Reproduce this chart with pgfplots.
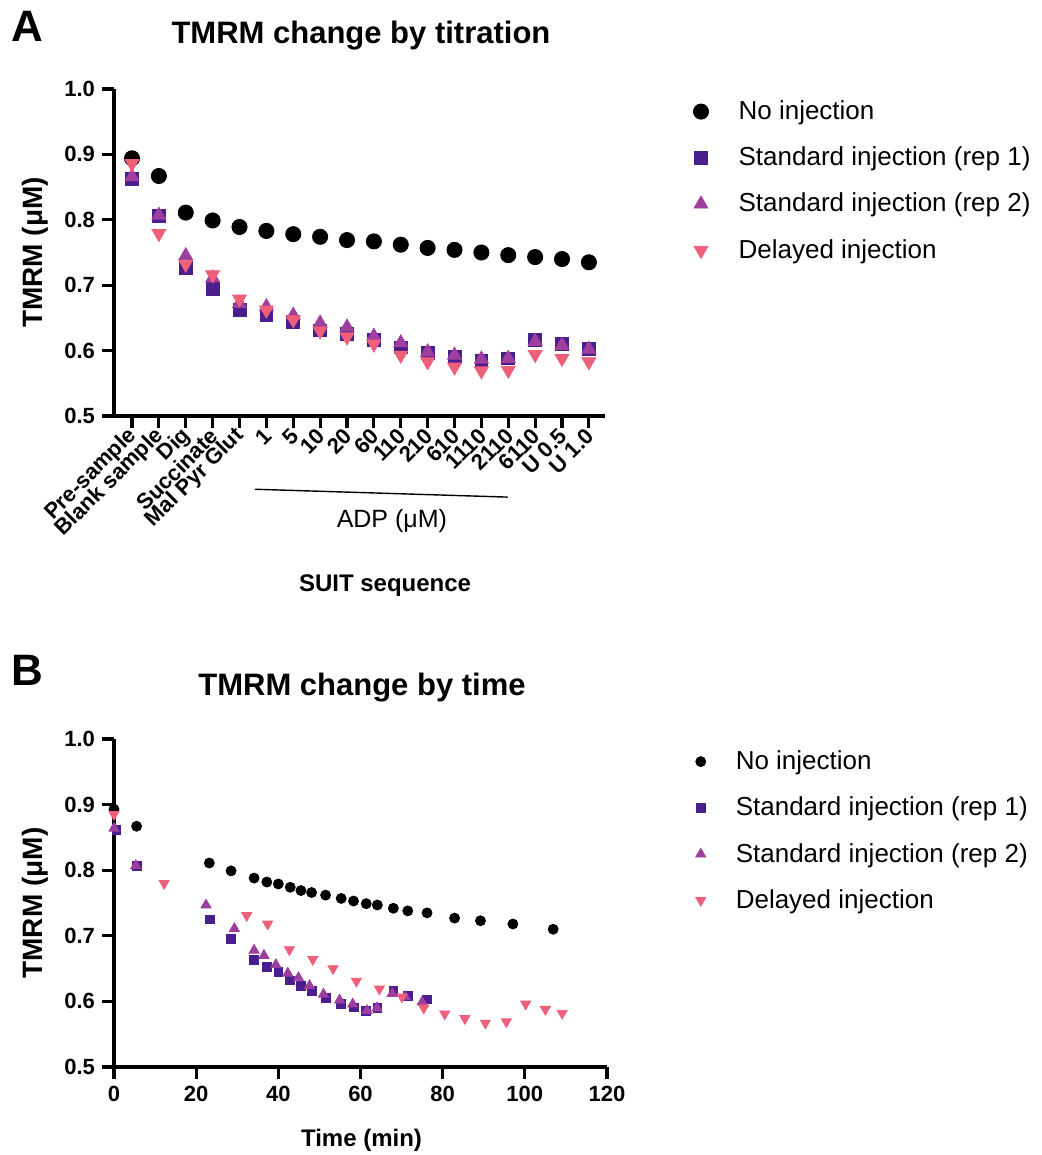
\documentclass[border=0pt]{standalone}
\usepackage{fontspec}
\setmainfont{Liberation Sans}
\usepackage{pgfplots}
\pgfplotsset{compat=1.18}

\definecolor{repone}{HTML}{4B1E8F}
\definecolor{reptwo}{HTML}{9E3FA0}
\definecolor{delayed}{HTML}{EE5F7A}

\pgfplotsset{
  prism/.style={
    scale only axis,
    axis lines=left,
    axis line style={-, line width=1.6pt},
    tick style={line width=1.6pt, black},
    tick align=outside,
    major tick length=6pt,
    ymin=0.5, ymax=1.0,
    ytick={0.5,0.6,0.7,0.8,0.9,1.0},
    yticklabel style={/pgf/number format/.cd, fixed, fixed zerofill, precision=1},
    /pgf/number format/assume math mode=true,
    ticklabel style={font=\bfseries\fontsize{11}{13}\selectfont},
    ylabel={TMRM (μM)},
    ylabel style={font=\bfseries\fontsize{14}{16}\selectfont, at={(axis description cs:-0.16,0.5)}, anchor=center},
    title style={font=\bfseries\fontsize{15.5}{18}\selectfont, anchor=center, at={(axis description cs:0.503,1)}},
    clip=false,
    legend cell align=left,
    legend style={draw=none, fill=none, anchor=north west, row sep=8.2pt,
      font=\fontsize{13}{15}\selectfont,
      /tikz/every odd column/.append style={column sep=13pt}},
  },
}

\begin{document}
\begin{tikzpicture}
\useasboundingbox (0,0) rectangle (520.5pt,-577.5pt);

\node[font=\bfseries\fontsize{22}{24}\selectfont] at (13.5pt,-13pt) {A};
\node[font=\bfseries\fontsize{22}{24}\selectfont] at (13.5pt,-335pt) {B};

% panel A: titration
\begin{axis}[prism,
  at={(57pt,-208pt)}, anchor=south west,
  width=245.5pt, height=163.5pt,
  xmin=-0.67, xmax=17.6,
  xtick={0,...,17},
  xticklabels={Pre-sample, Blank sample, Dig, Succinate, Mal Pyr Glut, 1, 5, 10, 20, 60, 110, 210, 610, 1110, 2110, 6110, U 0.5, U 1.0},
  xticklabel style={rotate=45, anchor=east, inner sep=1pt, yshift=-2pt},
  title={TMRM change by titration},
  title style={yshift=20.5pt},
  xlabel={SUIT sequence},
  xlabel style={font=\bfseries\fontsize{12}{14}\selectfont, at={(axis description cs:0.552,0)}, anchor=center, yshift=-85pt},
  legend style={at={(axis description cs:1.167,0.99)}},
]
\addplot[only marks, mark=*, mark size=3.8pt, black] coordinates {
 (0,0.894) (1,0.867) (2,0.811) (3,0.799) (4,0.789) (5,0.783) (6,0.778) (7,0.774) (8,0.769)
 (9,0.767) (10,0.762) (11,0.757) (12,0.754) (13,0.750) (14,0.746) (15,0.743) (16,0.740) (17,0.735)};
\addlegendentry{No injection}
\addplot[only marks, mark=square*, mark size=3.2pt, repone] coordinates {
 (0,0.862) (1,0.806) (2,0.726) (3,0.694) (4,0.662) (5,0.654) (6,0.644) (7,0.631) (8,0.625)
 (9,0.616) (10,0.605) (11,0.596) (12,0.591) (13,0.585) (14,0.588) (15,0.616) (16,0.610) (17,0.602)};
\addlegendentry{Standard injection (rep 1)}
\addplot[only marks, mark=triangle*, mark size=4pt, reptwo] coordinates {
 (0,0.866) (1,0.807) (2,0.745) (3,0.711) (4,0.672) (5,0.667) (6,0.654) (7,0.642) (8,0.636)
 (9,0.622) (10,0.612) (11,0.598) (12,0.593) (13,0.587) (14,0.588) (15,0.614) (16,0.608) (17,0.602)};
\addlegendentry{Standard injection (rep 2)}
\addplot[only marks, mark=triangle*, mark size=4pt, mark options={rotate=180}, delayed] coordinates {
 (0,0.886) (1,0.779) (2,0.732) (3,0.716) (4,0.679) (5,0.662) (6,0.647) (7,0.630) (8,0.621)
 (9,0.610) (10,0.593) (11,0.583) (12,0.575) (13,0.569) (14,0.570) (15,0.594) (16,0.588) (17,0.583)};
\addlegendentry{Delayed injection}
\draw[line width=0.7pt] (axis cs:4.57,0.388) -- (axis cs:13.98,0.376);
\node[font=\fontsize{12.5}{14}\selectfont] at (axis cs:9.67,0.339) {ADP (μM)};
\end{axis}

% panel B: time
\begin{axis}[prism,
  at={(57pt,-533.5pt)}, anchor=south west,
  width=246.5pt, height=164pt,
  xmin=0, xmax=120,
  xtick={0,20,40,60,80,100,120},
  title={TMRM change by time},
  title style={yshift=19.5pt},
  xlabel={Time (min)},
  xlabel style={font=\bfseries\fontsize{12}{14}\selectfont, at={(axis description cs:0.502,0)}, anchor=center, yshift=-36.5pt},
  legend style={at={(axis description cs:1.167,0.99)}},
]
\addplot[only marks, mark=*, mark size=2.5pt, black] coordinates {
 (0,0.893) (5.5,0.867) (23.2,0.811) (28.5,0.799) (34.1,0.788) (37.2,0.782) (40.0,0.779) (42.9,0.774)
 (45.5,0.769) (48.1,0.766) (51.5,0.762) (55.3,0.757) (58.3,0.753) (61.4,0.749) (64.1,0.747)
 (68.0,0.742) (71.5,0.738) (76.2,0.735) (82.9,0.727) (89.2,0.723) (97.1,0.718) (106.9,0.710)};
\addlegendentry{No injection}
\addplot[only marks, mark=square*, mark size=2.2pt, repone] coordinates {
 (0.6,0.862) (5.5,0.807) (23.3,0.725) (28.5,0.695) (34.1,0.663) (37.2,0.653) (40.0,0.645) (42.9,0.632)
 (45.5,0.624) (48.1,0.616) (51.5,0.605) (55.2,0.596) (58.3,0.591) (61.4,0.585) (64.1,0.590)
 (68.0,0.616) (71.5,0.609) (76.2,0.603)};
\addlegendentry{Standard injection (rep 1)}
\addplot[only marks, mark=triangle*, mark size=2.9pt, reptwo] coordinates {
 (0,0.864) (5.3,0.807) (22.4,0.747) (29.3,0.711) (34.1,0.678) (36.5,0.670) (39.4,0.656) (42.3,0.643)
 (44.9,0.636) (47.6,0.624) (51.0,0.611) (54.9,0.602) (58.1,0.596) (61.6,0.586) (64.0,0.590)
 (67.7,0.612) (70.9,0.607) (75.0,0.599)};
\addlegendentry{Standard injection (rep 2)}
\addplot[only marks, mark=triangle*, mark size=2.9pt, mark options={rotate=180}, delayed] coordinates {
 (0,0.885) (12.2,0.780) (32.3,0.731) (37.4,0.718) (42.7,0.679) (48.4,0.664) (53.3,0.650) (59.0,0.631)
 (64.6,0.619) (70.1,0.607) (75.4,0.590) (80.5,0.581) (85.4,0.574) (90.4,0.567) (95.5,0.569)
 (100.2,0.596) (105.0,0.588) (109.1,0.582)};
\addlegendentry{Delayed injection}
\end{axis}
\end{tikzpicture}
\end{document}
